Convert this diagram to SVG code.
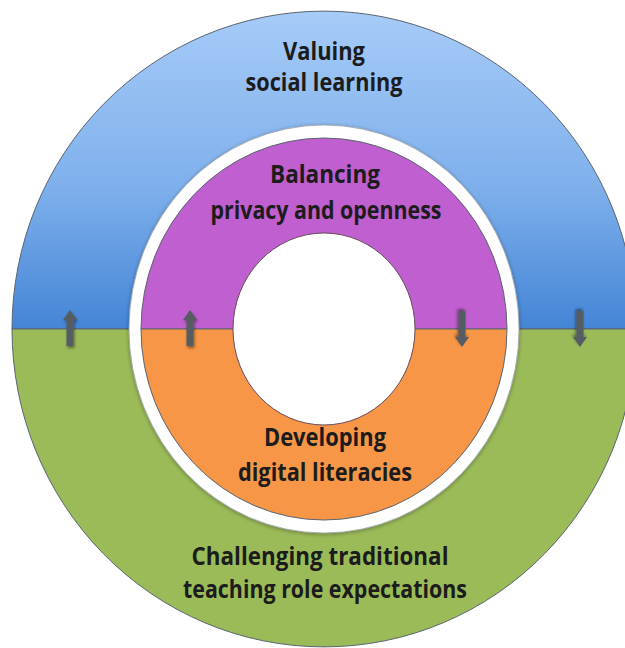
<svg xmlns="http://www.w3.org/2000/svg" width="625" height="648" viewBox="0 0 625 648">
<defs>
<linearGradient id="blueG" x1="0" y1="11" x2="0" y2="329" gradientUnits="userSpaceOnUse">
<stop offset="0" stop-color="#A6CBF8"/>
<stop offset="0.55" stop-color="#7FB0EC"/>
<stop offset="1" stop-color="#4485D6"/>
</linearGradient>
<filter id="sh" x="-50%" y="-50%" width="200%" height="200%">
<feGaussianBlur in="SourceAlpha" stdDeviation="1.5"/>
<feOffset dx="1" dy="2" result="b"/>
<feComponentTransfer><feFuncA type="linear" slope="0.45"/></feComponentTransfer>
<feMerge><feMergeNode/><feMergeNode in="SourceGraphic"/></feMerge>
</filter>
<filter id="ringsh" x="-10%" y="-10%" width="120%" height="120%">
<feGaussianBlur in="SourceAlpha" stdDeviation="2"/>
<feOffset dx="0" dy="1"/>
<feComponentTransfer><feFuncA type="linear" slope="0.35"/></feComponentTransfer>
<feMerge><feMergeNode/><feMergeNode in="SourceGraphic"/></feMerge>
</filter>
<path id="arrowUp" d="M -3.5 18 L -3.5 -8 L -7 -8 L 0 -18 L 7 -8 L 3.5 -8 L 3.5 18 Z"/>
</defs>
<style>
.edge{stroke:#5a6470;stroke-width:1}
.lbl{font-family:"Open Sans","Liberation Sans",sans-serif;font-weight:bold;font-size:25px;fill:#1c1c1c;text-anchor:middle}
.arr{fill:#555b62}
</style>
<rect width="625" height="648" fill="#ffffff"/>
<g id="outer-top">
<path d="M 12 329 A 312 318 0 0 1 636 329 Z" fill="url(#blueG)" class="edge"/>
<text class="lbl" x="324" y="60" textLength="82" lengthAdjust="spacingAndGlyphs">Valuing</text>
<text class="lbl" x="324" y="91" textLength="157" lengthAdjust="spacingAndGlyphs">social learning</text>
</g>
<g id="outer-bottom">
<path d="M 12 329 A 312 318 0 0 0 636 329 Z" fill="#9BBB59" class="edge"/>
<text class="lbl" x="320" y="565" textLength="257" lengthAdjust="spacingAndGlyphs">Challenging traditional</text>
<text class="lbl" x="325" y="598" textLength="284" lengthAdjust="spacingAndGlyphs">teaching role expectations</text>
</g>
<g id="white-ring">
<ellipse cx="324" cy="329" rx="195" ry="204" fill="#ffffff" stroke="#9aa0a8" stroke-width="0.8" filter="url(#ringsh)"/>
</g>
<g id="inner-top">
<path d="M 141 329 A 183 191 0 0 1 507 329 Z" fill="#C05FCF" class="edge"/>
<text class="lbl" x="325" y="183" textLength="110" lengthAdjust="spacingAndGlyphs">Balancing</text>
<text class="lbl" x="326" y="219" textLength="231" lengthAdjust="spacingAndGlyphs">privacy and openness</text>
</g>
<g id="inner-bottom">
<path d="M 141 329 A 183 191 0 0 0 507 329 Z" fill="#F79646" class="edge"/>
<text class="lbl" x="325" y="446" textLength="122" lengthAdjust="spacingAndGlyphs">Developing</text>
<text class="lbl" x="325" y="481" textLength="174" lengthAdjust="spacingAndGlyphs">digital literacies</text>
</g>
<g id="hole">
<ellipse cx="324" cy="329" rx="91" ry="96" fill="#ffffff" stroke="#6a4a5a" stroke-width="1"/>
</g>
<g id="connectors">
<use href="#arrowUp" class="arr" transform="translate(70 328)" filter="url(#sh)"/>
<use href="#arrowUp" class="arr" transform="translate(190 328)" filter="url(#sh)"/>
<use href="#arrowUp" class="arr" transform="translate(462 329) rotate(180)" filter="url(#sh)"/>
<use href="#arrowUp" class="arr" transform="translate(580 329) rotate(180)" filter="url(#sh)"/>
</g>
</svg>
